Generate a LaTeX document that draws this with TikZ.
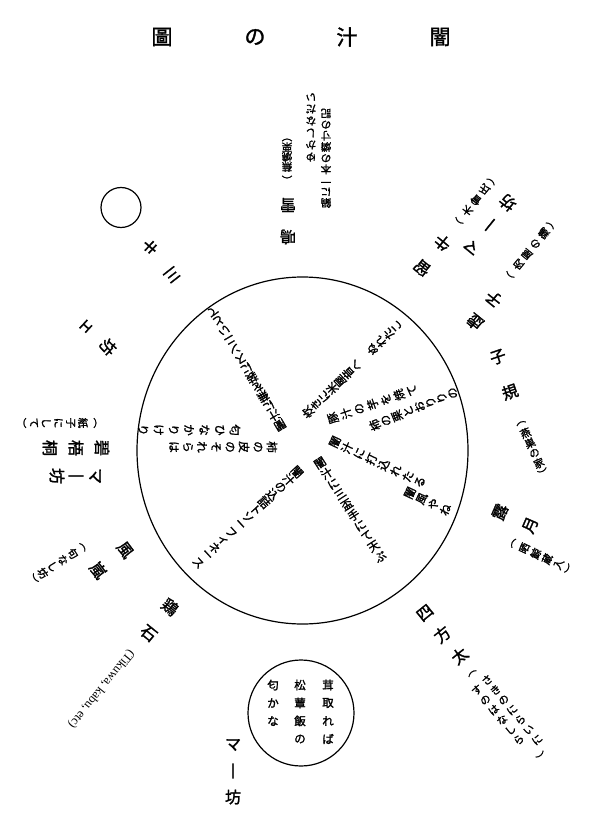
\documentclass[tikz,border=0pt]{standalone}
\usepackage{fontspec}
\newfontfamily\jp[FakeBold=1.6]{Noto Sans CJK JP}
\setmainfont{Liberation Serif}
\makeatletter
\newcount\vlc
\newcount\nid
\newcommand\vl[6]{%
  \global\vlc=0
  \@tfor\vl@c:=#6\do{%
    \pgfmathsetmacro\vl@x{#1+\the\vlc*#4*cos(#3)}%
    \pgfmathsetmacro\vl@y{#2-\the\vlc*#4*sin(#3)}%
    \global\advance\nid by 1
    \node[chr,#5,rotate={#3+90}] (t\the\nid) at (\vl@x,\vl@y) {\vl@c};
    \global\advance\vlc by 1}}
\makeatother
\tikzset{
  chr/.style={inner sep=0pt,anchor=center},
  ttl/.style={font={\jp\fontsize{21}{21}\selectfont}},
  nm/.style={font={\jp\fontsize{16}{16}\selectfont}},
  sm/.style={font={\jp\fontsize{10.5}{10.5}\selectfont}},
  inr/.style={font={\jp\fontsize{11.5}{11.5}\selectfont}},
  ring/.style={draw,line width=1.2pt}
}
\begin{document}
\begin{tikzpicture}[x=1pt,y=-1pt]
\useasboundingbox[fill=white] (0,0) rectangle (591,834);
% title
\node[chr,ttl] (ti1) at (162,37) {圖};
\node[chr,ttl] (ti2) at (255,37) {の};
\node[chr,ttl] (ti3) at (347,37) {汁};
\node[chr,ttl] (ti4) at (440,37) {闇};
% circles
\draw[ring] (302.5,450.5) ellipse [x radius=165.5, y radius=173.5];
\draw[ring] (121,207.5) circle [radius=20];
\draw[ring] (301,713) circle [radius=53];
% top group
\vl{288}{237}{90}{32}{nm}{鳴雪}
\vl{287}{177}{90}{10}{sm}{︵蕪燒栗︶}
\vl{326}{203}{90}{11.2}{sm}{鍋に一本の燐寸の記}
\vl{311}{157}{90}{12}{sm}{ゆかしなだい}
% upper right
\vl{422}{268}{51}{32.6}{nm}{留牛}
\vl{459}{221}{51}{13.5}{sm}{︵木曾氏︶}
\vl{472}{247}{51}{28.4}{nm}{マ丨坊}
\vl{475}{322}{51}{30}{nm}{虚子}
\vl{510}{275}{51}{13.4}{sm}{︵肉屋の鶏︶}
% right
\vl{498}{357}{-71}{37}{nm}{子規}
\vl{521}{423}{-66}{11}{sm}{︵燕巣の家︶}
\vl{500}{512}{-23.4}{33}{nm}{露月}
\vl{513}{543}{-25}{12.6}{sm}{︵晒鯨蔵入︶}
% lower right
\vl{425}{613}{-51}{27.5}{nm}{四方太}
\vl{472}{673}{-50}{10}{sm}{︵}
\vl{487}{680}{-50}{13}{sm}{さきのにらいに}
\vl{477}{690}{-50}{13}{sm}{すのはなしら}
\vl{542}{757}{-50}{10}{sm}{︶}
% lower left
\vl{170}{607}{231}{34}{nm}{鶏石}
\node[inner sep=0pt,anchor=west,rotate=231,font=\fontsize{12.5}{12.5}\selectfont] (lat) at (132,651) {(Tikuwa, kabu, etc)};
\vl{125}{550}{217}{33.6}{nm}{風嵐}
\vl{83}{547}{213}{12}{sm}{︵句なし坊︶}
% left
\vl{102}{448}{180}{26}{nm}{碧梧桐}
\vl{95}{423}{180}{12.2}{sm}{︵紙子にして︶}
\vl{95}{476}{180}{19}{nm}{マ丨坊}
% upper left
\vl{172}{275}{128}{35.6}{nm}{三キ}
\vl{108}{347}{137}{30}{nm}{坊ェ}
% bottom
\vl{233}{745}{-90}{26}{nm}{マ丨坊}
\vl{328}{685}{-90}{18}{inr}{茸取れば}
\vl{300}{685}{-90}{18}{inr}{松蕈飯の}
\vl{273}{685}{-90}{18}{inr}{匂かな}
% inner spokes
\vl{280}{425}{120.6}{11}{inr}{闇汁に蕪を装にスンニいとて}
\vl{272}{447}{180}{14}{inr}{柿の皮のそれらは}
\vl{235}{430}{180}{15.3}{inr}{匂ひなかりけり}
\vl{308}{412}{44.1}{11.2}{inr}{炊きに米屋音へ{}ぬれたこ}
\vl{333}{418}{19.3}{14}{inr}{豚汁の芋を焼て}
\vl{375}{425}{22.3}{12}{inr}{柿の栗とおりりの}
\vl{335}{442}{-25.2}{13.4}{inr}{闇汁に打込れたる}
\vl{410}{493}{-25.2}{13}{inr}{闇風やね}
\vl{320}{463}{-57.2}{12.4}{inr}{闇汁に三盃手にて天ぶ}
\vl{297}{472}{222.6}{11.2}{inr}{闇汁の込詰トソーフィネース}
\end{tikzpicture}
\end{document}
